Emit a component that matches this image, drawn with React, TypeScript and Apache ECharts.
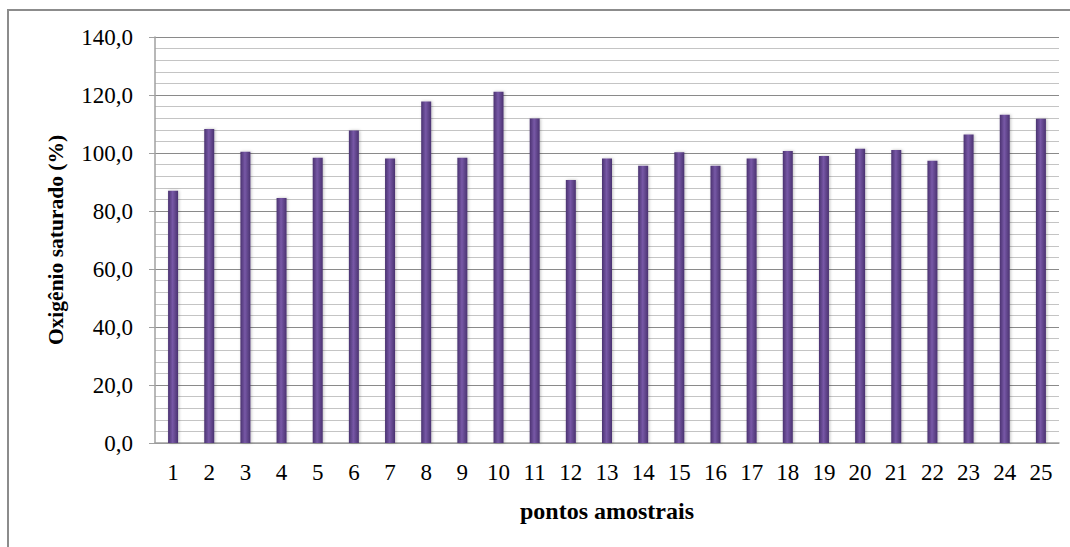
import React, { useEffect, useRef } from "react";
import * as echarts from "echarts";

const categories = ["1","2","3","4","5","6","7","8","9","10","11","12","13","14","15","16","17","18","19","20","21","22","23","24","25"];
const oxygenValues = [87.0, 108.3, 100.4, 84.5, 98.4, 107.8, 98.1, 117.8, 98.4, 121.1, 111.9, 90.7, 98.1, 95.6, 100.3, 95.6, 98.1, 100.7, 99.0, 101.5, 101.0, 97.3, 106.4, 113.2, 111.8];
const yAxisTitle = "Oxigênio saturado (%)";
const xAxisTitle = "pontos amostrais";

export default function App() {
  const ref = useRef<HTMLDivElement>(null);
  useEffect(() => {
    if (!ref.current) return;
    const chart = echarts.init(ref.current, null, { renderer: "svg" });
    const font = "'Liberation Serif', 'Times New Roman', serif";
    chart.setOption({
      animation: false,
      backgroundColor: "#ffffff",
      grid: { left: 155, right: 11, top: 37, bottom: 104, containLabel: false },
      graphic: [
        {
          type: "polyline",
          shape: { points: [[8, 547], [8, 10], [1070, 10]] },
          style: { stroke: "#8c8c8c", lineWidth: 2, fill: "none" },
          z: 100,
        },
      ],
      xAxis: {
        type: "category",
        data: categories,
        name: xAxisTitle,
        nameLocation: "middle",
        nameGap: 56,
        nameTextStyle: { fontFamily: font, fontSize: 24, fontWeight: "bold", color: "#000" },
        axisLine: { show: true, lineStyle: { color: "#a0a0a0", width: 1.5 } },
        axisTick: { show: false },
        axisLabel: { fontFamily: font, fontSize: 23, color: "#000", margin: 18, interval: 0 },
      },
      yAxis: {
        type: "value",
        min: 0,
        max: 140,
        interval: 20,
        name: yAxisTitle,
        nameLocation: "middle",
        nameGap: 88,
        nameTextStyle: { fontFamily: font, fontSize: 21.5, fontWeight: "bold", color: "#000" },
        axisLine: { show: true, lineStyle: { color: "#a0a0a0", width: 1.5 } },
        axisTick: { show: true, inside: false, length: 6, lineStyle: { color: "#a0a0a0" } },
        axisLabel: {
          fontFamily: font,
          fontSize: 23,
          color: "#000",
          margin: 22,
          formatter: (v: number) => v.toFixed(1).replace(".", ","),
        },
        splitLine: { show: true, lineStyle: { color: "#8a8a8a", width: 1 } },
        minorTick: { show: false, splitNumber: 5 },
        minorSplitLine: { show: true, lineStyle: { color: "#c4c4c4", width: 1 } },
      },
      series: [
        {
          type: "bar",
          data: oxygenValues,
          barWidth: 10,
          itemStyle: {
            color: new echarts.graphic.LinearGradient(0, 0, 1, 0, [
              { offset: 0, color: "#4a3270" },
              { offset: 0.45, color: "#7758a6" },
              { offset: 1, color: "#4a3270" },
            ]),
            shadowColor: "rgba(0,0,0,0.25)",
            shadowBlur: 3,
            shadowOffsetX: 1,
          },
        },
      ],
    });
    return () => chart.dispose();
  }, []);
  return <div ref={ref} style={{ position: "fixed", left: 0, top: 0, width: 1070, height: 547 }} />;
}
